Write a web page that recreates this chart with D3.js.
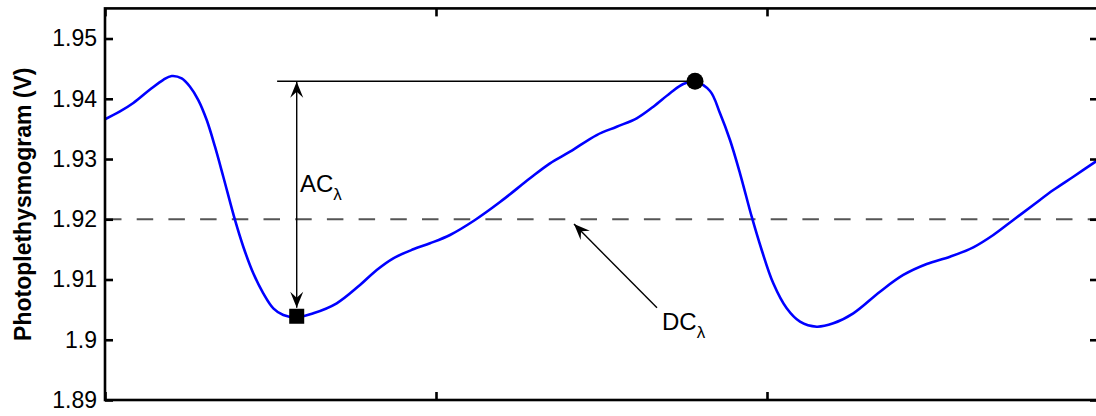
<!DOCTYPE html>
<html>
<head>
<meta charset="utf-8">
<script src="https://cdn.jsdelivr.net/npm/d3@7"></script>
<style>
  html, body { margin: 0; padding: 0; background: #fff; }
  svg { display: block; font-family: "Liberation Sans", Arial, Helvetica, sans-serif; }
</style>
</head>
<body>
<svg id="chart" width="1096" height="416"></svg>
<script>
// Time (s) and photoplethysmogram voltage (V) over two pulse cycles
const timeS = [0, 0.0453, 0.0855, 0.1360, 0.1761, 0.2015, 0.2317, 0.2568, 0.2819, 0.3073,
  0.3323, 0.3574, 0.3927, 0.4178, 0.4480, 0.4782, 0.5085, 0.5387, 0.5792, 0.6293,
  0.7000, 0.7704, 0.8209, 0.8710, 0.9314, 0.9819, 1.0423, 1.1178, 1.1934, 1.2840,
  1.3444, 1.4048, 1.4855, 1.5459, 1.6063, 1.6565, 1.7069, 1.7471, 1.7825, 1.8278,
  1.8580, 1.8882, 1.9184, 1.9538, 1.9840, 2.0190, 2.0595, 2.0997, 2.1501, 2.2003,
  2.2607, 2.3414, 2.4118, 2.4825, 2.5529, 2.6233, 2.6837, 2.7441, 2.8045, 2.8650,
  2.9254, 3.0];
const ppgV = [1.93659, 1.93789, 1.93929, 1.94153, 1.94315, 1.94378, 1.94339, 1.94200, 1.93979, 1.93647,
  1.93204, 1.92706, 1.91988, 1.91544, 1.91103, 1.90771, 1.90522, 1.90411, 1.90373, 1.90439,
  1.90605, 1.90909, 1.91158, 1.91352, 1.91501, 1.91601, 1.91739, 1.91988, 1.92286, 1.92680,
  1.92929, 1.93121, 1.93398, 1.93536, 1.93676, 1.93868, 1.94091, 1.94245, 1.94283, 1.94129,
  1.93759, 1.93315, 1.92763, 1.92042, 1.91490, 1.90937, 1.90522, 1.90300, 1.90217, 1.90273,
  1.90439, 1.90798, 1.91075, 1.91257, 1.91378, 1.91534, 1.91739, 1.91988, 1.92237, 1.92485,
  1.92706, 1.92983];

// Axis ticks
const yTicks = [1.89, 1.90, 1.91, 1.92, 1.93, 1.94, 1.95];
const yTickLabels = ["1.89", "1.9", "1.91", "1.92", "1.93", "1.94", "1.95"];
const xTicks = [0, 1, 2, 3];

// Annotated points: trough (square) and peak (circle), plus the DC level
const troughPoint = [0.5792, 1.9039];
const peakPoint = [1.7825, 1.9429];
const dcLevel = 1.92;
const acLineStart = 0.52;          // left end of the peak reference line (s)
const dcArrowFrom = [1.6677, 1.9053];
const dcArrowTo = [1.4169, 1.9192];
const acLabelPos = [0.5891, 1.9245];
const dcLabelPos = [1.6828, 1.9016];

const svg = d3.select("#chart");
const plotLeft = 105, plotRight = 1098, plotTop = 8.4, plotBottom = 400;

const x = d3.scaleLinear().domain([0, 3]).range([plotLeft, plotRight]);
const y = d3.scaleLinear().domain([1.89, 1.955]).range([plotBottom, plotTop]);

const defs = svg.append("defs");
defs.append("clipPath").attr("id", "plotClip")
  .append("rect").attr("x", plotLeft).attr("y", plotTop)
  .attr("width", plotRight - plotLeft).attr("height", plotBottom - plotTop);

defs.append("marker")
  .attr("id", "head")
  .attr("markerUnits", "userSpaceOnUse")
  .attr("viewBox", "-17 -8 18 16")
  .attr("refX", 0).attr("refY", 0)
  .attr("markerWidth", 18).attr("markerHeight", 16)
  .attr("orient", "auto-start-reverse")
  .append("path")
  .attr("d", "M0,0 L-16,-6.5 L-10,0 L-16,6.5 Z")
  .attr("fill", "#000");

// DC level (dashed)
svg.append("line")
  .attr("x1", plotLeft).attr("x2", plotRight)
  .attr("y1", y(dcLevel)).attr("y2", y(dcLevel))
  .attr("stroke", "#555").attr("stroke-width", 2)
  .attr("stroke-dasharray", "16.5,15.2");

// Signal
const line = d3.line()
  .x((d, i) => x(timeS[i]))
  .y(d => y(d))
  .curve(d3.curveCatmullRom.alpha(0.5));

svg.append("path")
  .datum(ppgV)
  .attr("clip-path", "url(#plotClip)")
  .attr("d", line)
  .attr("fill", "none")
  .attr("stroke", "#0000ff")
  .attr("stroke-width", 2.6);

// Peak reference line
svg.append("line")
  .attr("x1", x(acLineStart)).attr("x2", x(peakPoint[0]))
  .attr("y1", y(peakPoint[1])).attr("y2", y(peakPoint[1]))
  .attr("stroke", "#000").attr("stroke-width", 1.4);

// AC double arrow
svg.append("line")
  .attr("x1", x(troughPoint[0])).attr("x2", x(troughPoint[0]))
  .attr("y1", y(peakPoint[1]) + 0.5).attr("y2", y(troughPoint[1]) - 8.5)
  .attr("stroke", "#000").attr("stroke-width", 1.4)
  .attr("marker-start", "url(#head)")
  .attr("marker-end", "url(#head)");

// DC arrow
svg.append("line")
  .attr("x1", x(dcArrowFrom[0])).attr("y1", y(dcArrowFrom[1]))
  .attr("x2", x(dcArrowTo[0])).attr("y2", y(dcArrowTo[1]))
  .attr("stroke", "#000").attr("stroke-width", 1.4)
  .attr("marker-end", "url(#head)");

// Trough and peak markers
svg.append("rect")
  .attr("x", x(troughPoint[0]) - 7.5).attr("y", y(troughPoint[1]) - 7.5)
  .attr("width", 15).attr("height", 15)
  .attr("fill", "#000");
svg.append("circle")
  .attr("cx", x(peakPoint[0])).attr("cy", y(peakPoint[1]))
  .attr("r", 8.5).attr("fill", "#000");

// Labels
function subLabel(pos, main) {
  const t = svg.append("text")
    .attr("x", x(pos[0])).attr("y", y(pos[1]))
    .attr("font-size", 24).attr("fill", "#000");
  t.append("tspan").text(main);
  t.append("tspan").attr("font-size", 17).attr("dy", 8).text("λ");
}
subLabel(acLabelPos, "AC");
subLabel(dcLabelPos, "DC");

// Axes box
const axisColor = "#000";
svg.append("rect")
  .attr("x", plotLeft).attr("y", plotTop)
  .attr("width", plotRight - plotLeft).attr("height", plotBottom - plotTop)
  .attr("fill", "none").attr("stroke", axisColor).attr("stroke-width", 2.6);

const yAxisL = d3.axisLeft(y).tickValues(yTicks).tickSizeInner(-8).tickSizeOuter(0)
  .tickPadding(8).tickFormat((d, i) => yTickLabels[i]);
const gL = svg.append("g").attr("transform", `translate(${plotLeft},0)`).call(yAxisL);
gL.select(".domain").remove();
gL.selectAll(".tick line").attr("stroke", axisColor).attr("stroke-width", 2.6);
gL.selectAll(".tick text").attr("font-size", 23).attr("fill", "#000")
  .attr("font-family", "Liberation Sans, Arial, sans-serif");

const yAxisR = d3.axisRight(y).tickValues(yTicks).tickSizeInner(-8).tickSizeOuter(0).tickFormat("");
const gR = svg.append("g").attr("transform", `translate(${plotRight},0)`).call(yAxisR);
gR.select(".domain").remove();
gR.selectAll(".tick line").attr("stroke", axisColor).attr("stroke-width", 2.6);

const xAxisB = d3.axisBottom(x).tickValues(xTicks).tickSizeInner(-8).tickSizeOuter(0).tickFormat("");
const gB = svg.append("g").attr("transform", `translate(0,${plotBottom})`).call(xAxisB);
gB.select(".domain").remove();
gB.selectAll(".tick line").attr("stroke", axisColor).attr("stroke-width", 2.6);

const xAxisT = d3.axisTop(x).tickValues(xTicks).tickSizeInner(-8).tickSizeOuter(0).tickFormat("");
const gT = svg.append("g").attr("transform", `translate(0,${plotTop})`).call(xAxisT);
gT.select(".domain").remove();
gT.selectAll(".tick line").attr("stroke", axisColor).attr("stroke-width", 2.6);

// Y axis title
svg.append("text")
  .attr("transform", `translate(31,${(plotTop + plotBottom) / 2}) rotate(-90)`)
  .attr("text-anchor", "middle")
  .attr("font-size", 23).attr("font-weight", "bold").attr("fill", "#000")
  .text("Photoplethysmogram (V)");
</script>
</body>
</html>
